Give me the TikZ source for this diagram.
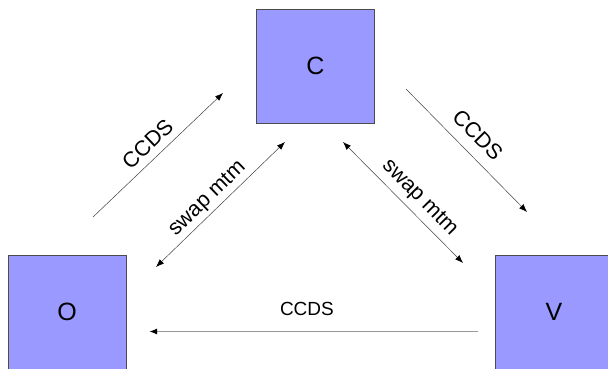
\documentclass[tikz,border=0pt]{standalone}
\usepackage{fontspec}
\setmainfont{Liberation Sans}
\usetikzlibrary{arrows.meta}
\definecolor{boxblue}{RGB}{153,153,255}

\begin{document}
\begin{tikzpicture}[x=1pt,y=-1pt,
  box/.style={draw=black!70,line width=0.6pt,fill=boxblue,minimum width=118pt,
    minimum height=114pt,inner sep=0pt,font=\fontsize{25}{30}\selectfont},
  link/.style={draw=black!75,line width=0.5pt},
  tip/.style={-{Latex[length=8pt,width=6pt,color=black]}},
  both/.style={{Latex[length=8pt,width=6pt,color=black]}-{Latex[length=8pt,width=6pt,color=black]}},
  lbl/.style={font=\fontsize{19}{23}\selectfont},
  slbl/.style={font=\fontsize{21.5}{26}\selectfont,sloped}]
%  \draw[gray] (0,0) rectangle (608,369);
  \useasboundingbox (0,0) rectangle (608,369);
  \clip (0,0) rectangle (608,369);
  % boxes
  \node[box] (C) at (315.5, 66) {C};
  \node[box] (O) at ( 67.0,312) {O};
  \node[box] (V) at (554.0,312) {V};
  % arrow ends
  \coordinate (oc0) at ( 93,217); \coordinate (oc1) at (223, 93);
  \coordinate (os0) at (156,267); \coordinate (os1) at (285,142);
  \coordinate (vs0) at (343,142); \coordinate (vs1) at (463,263);
  \coordinate (cv0) at (406, 89); \coordinate (cv1) at (527,212);
  \coordinate (vo0) at (478,331.5); \coordinate (vo1) at (149,331.5);
  % arrows
  \draw[link,tip]  (oc0) -- (oc1) node[slbl,pos=0.5, above=4pt] {CCDS};
  \draw[link,both] (os0) -- (os1) node[slbl,pos=0.47,above=0pt] {swap mtm};
  \draw[link,both] (vs0) -- (vs1) node[slbl,pos=0.55,above=2pt] {swap mtm};
  \draw[link,tip]  (cv0) -- (cv1) node[slbl,pos=0.48,above=8pt] {CCDS};
  \draw[link,tip,draw=black!40,line width=1.6pt] (vo0) -- (vo1)
    node[lbl,pos=0.52,above=11.5pt] {CCDS};
\end{tikzpicture}
\end{document}
